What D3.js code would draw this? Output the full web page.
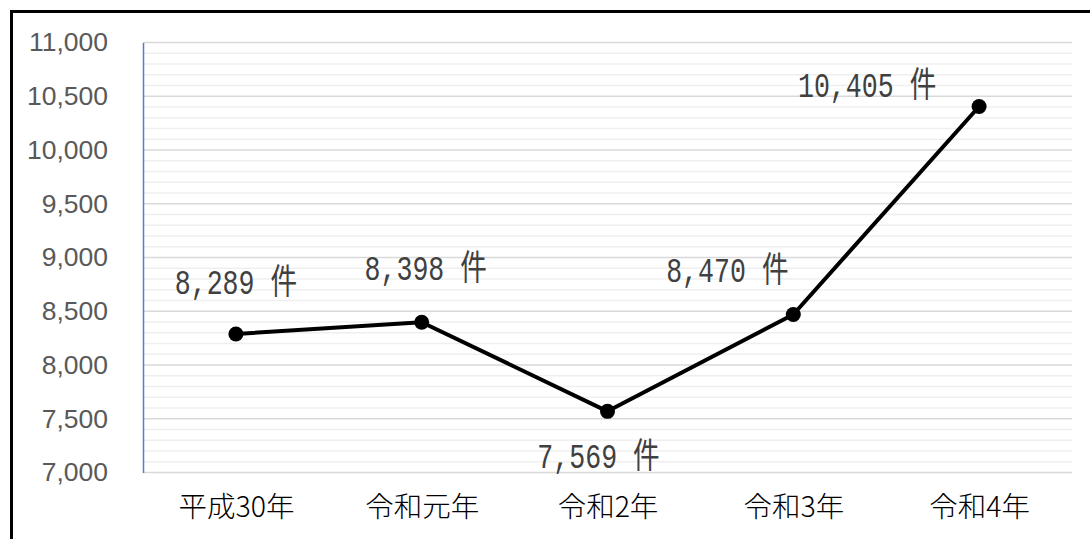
<!DOCTYPE html>
<html>
<head>
<meta charset="utf-8">
<script src="https://cdn.jsdelivr.net/npm/d3@7"></script>
<style>
  html, body { margin: 0; padding: 0; background: #fff; }
  svg { display: block; }
</style>
</head>
<body>
<svg id="chart" width="1090" height="539"></svg>
<script>
// Annual case counts
const categories = ["平成30年", "令和元年", "令和2年", "令和3年", "令和4年"];
const values = [8289, 8398, 7569, 8470, 10405];
const yTicks = [7000, 7500, 8000, 8500, 9000, 9500, 10000, 10500, 11000];
const unitLabel = "件";
// Hand placement of each value label relative to its point (dx, dy)
const labelOffsets = [[0, -50], [4, -52], [-9, 47], [-66, -42], [-112, -19]];

const W = 1090, H = 539;
const plot = { left: 143, right: 1072, top: 42.5, bottom: 472.5 };

const svg = d3.select("#chart");

// Outer frame
svg.append("rect")
  .attr("x", 11.5).attr("y", 11.5)
  .attr("width", W + 20).attr("height", H + 20)
  .attr("fill", "none").attr("stroke", "#000").attr("stroke-width", 3);

const x = d3.scalePoint().domain(categories).range([plot.left, plot.right]).padding(0.5);
const y = d3.scaleLinear().domain([7000, 11000]).range([plot.bottom, plot.top]);

// Minor gridlines every 100
const minor = d3.range(7100, 11000, 100).filter(v => v % 500 !== 0);
svg.append("g").selectAll("line").data(minor).join("line")
  .attr("x1", plot.left).attr("x2", plot.right)
  .attr("y1", d => y(d)).attr("y2", d => y(d))
  .attr("stroke", "#efefef").attr("stroke-width", 1.5);

// Major gridlines every 500
svg.append("g").selectAll("line").data(yTicks).join("line")
  .attr("x1", plot.left).attr("x2", plot.right)
  .attr("y1", d => y(d)).attr("y2", d => y(d))
  .attr("stroke", "#d9d9d9").attr("stroke-width", 1.5);

// Value axis
const yAxis = svg.append("g")
  .attr("transform", `translate(${plot.left},0)`)
  .call(d3.axisLeft(y).tickValues(yTicks).tickSize(0).tickPadding(35)
    .tickFormat(d3.format(",")));
yAxis.select(".domain").attr("stroke", "#4f81c7").attr("stroke-width", 1.5);
yAxis.selectAll("text")
  .attr("fill", "#595959")
  .style("font-family", "'Liberation Sans', Arial, sans-serif")
  .style("font-size", "26.5px");

// Category axis
const xAxis = svg.append("g")
  .attr("transform", `translate(0,${plot.bottom})`)
  .call(d3.axisBottom(x).tickSize(0).tickPadding(24));
xAxis.select(".domain").remove();
xAxis.selectAll("text")
  .attr("fill", "#000")
  .attr("dy", "0.71em")
  .style("font-family", "'Noto Sans CJK JP', sans-serif")
  .style("font-weight", "300")
  .style("font-size", "28.5px");

// Series line
const pts = categories.map((c, i) => [x(c), y(values[i])]);
svg.append("path")
  .attr("d", d3.line()(pts))
  .attr("fill", "none").attr("stroke", "#000").attr("stroke-width", 4)
  .attr("stroke-linejoin", "round");

svg.append("g").selectAll("circle").data(pts).join("circle")
  .attr("cx", d => d[0]).attr("cy", d => d[1]).attr("r", 7.5)
  .attr("fill", "#000");

// Value labels
const fmt = d3.format(",");
svg.append("g").selectAll("g").data(values).join("g")
  .attr("transform", (d, i) =>
    `translate(${pts[i][0] + labelOffsets[i][0]},${pts[i][1] + labelOffsets[i][1]}) scale(0.76,1)`)
  .append("text")
  .attr("text-anchor", "middle")
  .attr("dominant-baseline", "central")
  .attr("fill", "#404040")
  .style("font-family", "'Liberation Mono', 'Noto Sans CJK JP', monospace")
  .style("font-size", "35px")
  .text(d => `${fmt(d)} ${unitLabel}`);
</script>
</body>
</html>
